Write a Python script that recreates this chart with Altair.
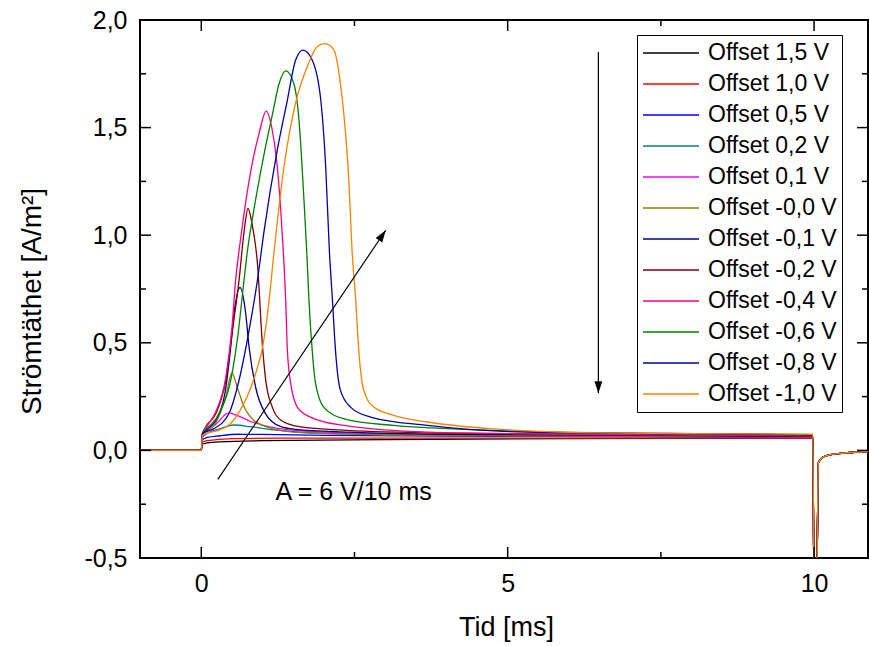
import altair as alt
import pandas as pd

# ---------------- data ----------------
labels = ["Offset 1,5 V", "Offset 1,0 V", "Offset 0,5 V", "Offset 0,2 V",
          "Offset 0,1 V", "Offset -0,0 V", "Offset -0,1 V", "Offset -0,2 V",
          "Offset -0,4 V", "Offset -0,6 V", "Offset -0,8 V", "Offset -1,0 V"]
colors = ["#000000", "#FF0000", "#0000FF", "#008080", "#FF00FF", "#808000",
          "#000080", "#800000", "#FF0080", "#008000", "#0000A8", "#FF8000"]
order_key = list(range(len(labels)))

# common pieces: before the pulse and after the pulse end (t = 10 ms)
t_pre = [-1.0, 0.0]
y_pre = [0.0, 0.0]
t_post = [10.0, 10.04, 10.07, 10.15, 10.4, 10.9]
y_post = [-0.7, -0.7, -0.06, -0.03, -0.015, -0.005]

t_p15 = [0.02, 0.1, 0.3, 1.0, 3.0, 6.0, 9.98]
y_p15 = [0.03, 0.035, 0.04, 0.045, 0.05, 0.055, 0.058]

t_p10 = [0.02, 0.1, 0.5, 1.5, 4.0, 9.98]
y_p10 = [0.04, 0.045, 0.055, 0.057, 0.057, 0.057]

t_p05 = [0.02, 0.1, 0.3, 0.6, 1.0, 2.0, 5.0, 9.98]
y_p05 = [0.05, 0.06, 0.068, 0.075, 0.074, 0.07, 0.065, 0.062]

t_p02 = [0.02, 0.1, 0.3, 0.53, 0.8, 1.2, 2.0, 4.0, 9.98]
y_p02 = [0.06, 0.08, 0.1, 0.118, 0.11, 0.095, 0.08, 0.07, 0.064]

t_p01 = [0.02, 0.1, 0.25, 0.45, 0.6, 0.8, 1.2, 2.0, 4.0, 9.98]
y_p01 = [0.065, 0.09, 0.125, 0.174, 0.16, 0.135, 0.105, 0.085, 0.072, 0.062]

t_m00 = [0.02, 0.1, 0.24, 0.4, 0.5, 0.59, 0.72, 1.0, 1.5, 2.5, 5.0, 9.98]
y_m00 = [0.07, 0.095, 0.13, 0.25, 0.36, 0.29, 0.19, 0.116, 0.085, 0.075, 0.068, 0.064]

t_m01 = [0.02, 0.1, 0.236, 0.4, 0.48, 0.535, 0.633, 0.725, 0.78, 0.89, 1.05, 1.3,
         1.54, 2.4, 4.0, 9.98]
y_m01 = [0.075, 0.1, 0.14, 0.29, 0.48, 0.636, 0.757, 0.636, 0.48, 0.29, 0.17, 0.11,
         0.098, 0.085, 0.075, 0.065]

t_m02 = [0.02, 0.07, 0.236, 0.4, 0.51, 0.616, 0.7, 0.763, 0.83, 0.916, 1.0, 1.05,
         1.16, 1.3, 1.6, 2.38, 4.0, 9.98]
y_m02 = [0.075, 0.108, 0.17, 0.326, 0.56, 0.79, 1.02, 1.124, 1.05, 0.87, 0.48, 0.33,
         0.2, 0.14, 0.11, 0.093, 0.08, 0.066]

t_m04 = [0.02, 0.1, 0.236, 0.4, 0.5, 0.56, 0.65, 0.75, 0.85, 0.94, 1.06, 1.15, 1.24,
         1.32, 1.377, 1.405, 1.46, 1.57, 1.78, 2.33, 3.69, 6.0, 9.98]
y_m04 = [0.08, 0.115, 0.18, 0.34, 0.57, 0.79, 1.0, 1.2, 1.36, 1.47, 1.577, 1.5, 1.318,
         1.01, 0.7, 0.465, 0.31, 0.2, 0.155, 0.116, 0.085, 0.075, 0.068]

t_m06 = [0.02, 0.1, 0.29, 0.51, 0.6, 0.67, 0.75, 0.89, 1.02, 1.16, 1.27, 1.38, 1.51,
         1.59, 1.676, 1.72, 1.757, 1.81, 1.866, 2.0, 2.33, 3.14, 4.77, 7.0, 9.98]
y_m06 = [0.08, 0.105, 0.17, 0.37, 0.54, 0.72, 0.92, 1.17, 1.37, 1.56, 1.705, 1.764, 1.705,
         1.55, 1.163, 0.93, 0.7, 0.465, 0.31, 0.2, 0.147, 0.116, 0.093, 0.08, 0.07]

t_m08 = [0.02, 0.2, 0.45, 0.616, 0.78, 0.916, 1.02, 1.24, 1.405, 1.54, 1.66, 1.81,
         1.95, 2.03, 2.09, 2.14, 2.19, 2.27, 2.44, 2.76, 3.69, 5.3, 9.98]
y_m08 = [0.08, 0.1, 0.17, 0.326, 0.558, 0.79, 1.01, 1.395, 1.628, 1.814, 1.86, 1.814,
         1.628, 1.318, 0.93, 0.7, 0.465, 0.28, 0.2, 0.155, 0.116, 0.085, 0.072]

t_m10 = [0.02, 0.1, 0.3, 0.48, 0.6, 0.75, 0.9, 1.0, 1.1, 1.19, 1.35, 1.55, 1.73, 1.89,
         2.02, 2.165, 2.27, 2.355, 2.41, 2.46, 2.52, 2.57, 2.65, 2.82, 3.14, 3.69, 4.77,
         5.86, 8.0, 9.98]
y_m10 = [0.07, 0.08, 0.095, 0.125, 0.17, 0.25, 0.37, 0.48, 0.68, 0.93, 1.318, 1.628,
         1.783, 1.876, 1.89, 1.86, 1.705, 1.473, 1.24, 0.93, 0.7, 0.465, 0.28, 0.2, 0.163,
         0.132, 0.1, 0.085, 0.078, 0.075]

series_t = [t_p15, t_p10, t_p05, t_p02, t_p01, t_m00, t_m01, t_m02, t_m04, t_m06, t_m08, t_m10]
series_y = [y_p15, y_p10, y_p05, y_p02, y_p01, y_m00, y_m01, y_m02, y_m04, y_m06, y_m08, y_m10]

# axis ticks
x_major = [0, 5, 10]
x_minor = [2.5, 7.5]
y_major = [-0.5, 0.0, 0.5, 1.0, 1.5, 2.0]
y_minor = [-0.25, 0.25, 0.75, 1.25, 1.75]

# annotations (data coordinates)
arrow1_start = (0.27, -0.135)
arrow1_end = (3.01, 1.023)
arrow2_start = (6.48, 1.851)
arrow2_end = (6.48, 0.265)
note_pos = (1.21, -0.195)
note_text = "A = 6 V/10 ms"

X_DOMAIN = [-1.0, 10.88]
Y_DOMAIN = [-0.5, 2.0]
W, H = 728, 538
FONT = "Liberation Sans"

# ---------------- build table ----------------
rows = []
for k, lab, ts, ys in zip(order_key, labels, series_t, series_y):
    tt = t_pre + ts + t_post
    yy = y_pre + ys + y_post
    for a, b in zip(tt, yy):
        rows.append({"k": k, "series": lab, "t": a, "y": b})
df = pd.DataFrame(rows)

xscale = alt.Scale(domain=X_DOMAIN, nice=False, zero=False)
yscale = alt.Scale(domain=Y_DOMAIN, nice=False, zero=False)

xaxis = alt.Axis(values=x_major, format="d", title="Tid [ms]",
                 titleX=366, titleY=69, titleBaseline="middle", titleAlign="center",
                 labelPadding=13, ticks=False, domain=False, grid=False,
                 labelFont=FONT, labelFontSize=25, labelColor="black",
                 titleFont=FONT, titleFontSize=27, titleFontWeight="normal",
                 titleColor="black")
yaxis = alt.Axis(values=y_major, title="Strömtäthet [A/m²]",
                 labelExpr="(datum.value < 0 ? '-' : '') + replace(format(abs(datum.value), '.1f'), '.', ',')",
                 titleX=-108, titleY=281, titleBaseline="middle", titleAlign="center",
                 titleAngle=270, labelPadding=13, ticks=False, domain=False, grid=False,
                 labelFont=FONT, labelFontSize=25, labelColor="black",
                 titleFont=FONT, titleFontSize=28, titleFontWeight="normal",
                 titleColor="black")

X = lambda f: alt.X(f, scale=xscale, axis=xaxis)
Y = lambda f: alt.Y(f, scale=yscale, axis=yaxis)

lines = alt.Chart(df).mark_line(clip=True, strokeWidth=1.3, interpolate="monotone").encode(
    x=X("t:Q"),
    y=Y("y:Q"),
    color=alt.Color("series:N", scale=alt.Scale(domain=labels, range=colors),
                    sort=labels, title=None),
    detail="k:O",
)

def tick_layer(vals, channel, p0, p1):
    d = pd.DataFrame({"v": vals})
    if channel == "x":
        return alt.Chart(d).mark_rule(color="black", strokeWidth=1.5).encode(
            x=X("v:Q"), y=alt.value(p0), y2=alt.value(p1))
    return alt.Chart(d).mark_rule(color="black", strokeWidth=1.5).encode(
        y=Y("v:Q"), x=alt.value(p0), x2=alt.value(p1))

MAJ, MIN = 11, 6
ticks = [
    tick_layer(x_major, "x", H, H - MAJ), tick_layer(x_major, "x", 0, MAJ),
    tick_layer(x_minor, "x", H, H - MIN), tick_layer(x_minor, "x", 0, MIN),
    tick_layer(y_major, "y", 0, MAJ), tick_layer(y_major, "y", W, W - MAJ),
    tick_layer(y_minor, "y", 0, MIN), tick_layer(y_minor, "y", W, W - MIN),
]

arrows = pd.DataFrame({
    "x0": [arrow1_start[0], arrow2_start[0]], "y0": [arrow1_start[1], arrow2_start[1]],
    "x1": [arrow1_end[0], arrow2_end[0]], "y1": [arrow1_end[1], arrow2_end[1]],
    "ang": [34, 180],
})
arrow_lines = alt.Chart(arrows).mark_rule(color="black", strokeWidth=1.2).encode(
    x=X("x0:Q"), y=Y("y0:Q"), x2="x1:Q", y2="y1:Q")
arrow_heads = alt.Chart(arrows).mark_point(
    shape="M0,0L-0.33,1L0.33,1Z", filled=True, color="black", opacity=1, size=576
).encode(
    x=X("x1:Q"), y=Y("y1:Q"),
    angle=alt.Angle("ang:Q", scale=None))

note = alt.Chart(pd.DataFrame({"x": [note_pos[0]], "y": [note_pos[1]], "txt": [note_text]})
                 ).mark_text(align="left", baseline="middle", font=FONT, fontSize=25,
                             color="black").encode(
    x=X("x:Q"), y=Y("y:Q"), text="txt:N")

chart = alt.layer(lines, *ticks, arrow_lines, arrow_heads, note).properties(
    width=W, height=H,
    autosize=alt.AutoSizeParams(type="none"),
    padding={"left": 140, "top": 20, "right": 1, "bottom": 88},
    background="white",
).configure_view(
    stroke="black", strokeWidth=2
).configure_legend(
    orient="none", legendX=497, legendY=15,
    strokeColor="black", strokeWidth=1, fillColor="white", padding=5,
    symbolType="stroke", symbolSize=3136, symbolStrokeWidth=1.5,
    labelFont=FONT, labelFontSize=23, labelColor="black", labelOffset=8,
    labelLimit=400, clipHeight=26, rowPadding=5,
)

chart.save("out.html", embed_options={"renderer": "svg", "actions": False})
